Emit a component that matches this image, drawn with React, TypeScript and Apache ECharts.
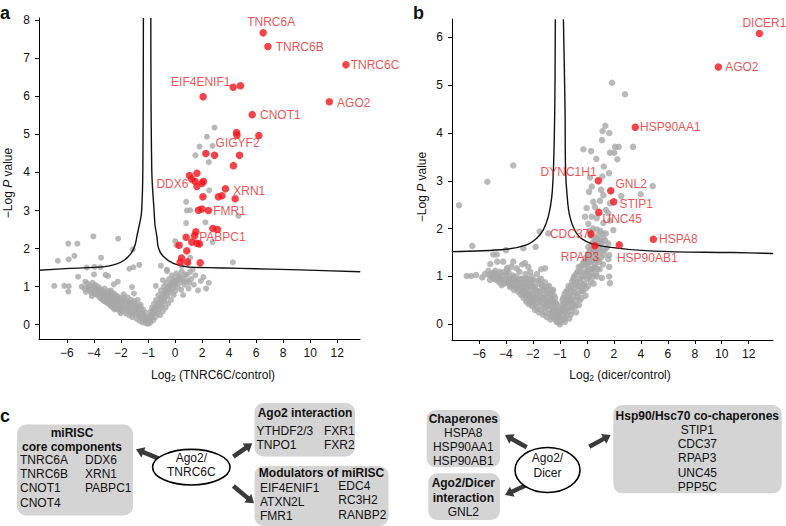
import React, { useEffect, useRef } from "react";
import * as echarts from "echarts";

const FONT = '"Liberation Sans", Arial, Helvetica, sans-serif';

// x tick labels (the axis is drawn with equal spacing between these labels)
const TICKS_X = [-6, -4, -2, -1, 0, 2, 4, 6, 8, 10, 12];
const TICKS_YA = [0, 1, 2, 3, 4, 5, 6, 7, 8];
const TICKS_YB = [0, 1, 2, 3, 4, 5, 6];

// Panel a: significant (red) proteins [log2 ratio, -log P, label]
const RED_A: [number, number, string][] = [
  [6.52, 7.67, "TNRC6A"], [6.87, 7.31, "TNRC6B"], [12.64, 6.83, "TNRC6C"], [4.3, 6.24, "EIF4ENIF1"],
  [4.84, 6.28, ""], [2.08, 5.99, ""], [11.41, 5.86, "AGO2"], [5.71, 5.52, "CNOT1"], [4.55, 5.05, ""],
  [4.58, 4.98, ""], [6.2, 4.97, ""], [2.28, 4.5, "GIGYF2"], [2.92, 4.45, ""], [4.77, 4.45, ""],
  [4.32, 4.18, ""], [1.62, 3.98, ""], [1.07, 3.92, ""], [1.24, 3.83, ""], [1.49, 3.76, "DDX6"],
  [2.1, 3.76, ""], [1.62, 3.63, ""], [1.99, 3.72, ""], [3.73, 3.57, "XRN1"], [3.47, 3.39, ""],
  [3.21, 3.36, ""], [2.06, 3.36, ""], [4.45, 3.31, ""], [1.99, 3.04, ""], [1.73, 3.01, ""],
  [2.47, 3.0, "FMR1"], [2.8, 2.53, ""], [3.14, 2.5, ""], [0.82, 2.3, ""], [1.54, 2.44, ""],
  [1.44, 2.34, "PABPC1"], [1.24, 2.17, ""], [1.62, 2.14, ""], [1.81, 2.12, ""], [0.3, 2.09, ""],
  [0.87, 1.94, ""], [0.48, 1.75, ""], [0.38, 1.64, ""], [0.92, 1.65, ""], [1.86, 1.63, ""],
];

// Panel a: other proteins (grey)
const GREY_A: [number, number][] = [
  [-6.93, 1.02], [-6.19, 1.02], [-5.86, 1.01], [-5.89, 0.87], [-6.67, 1.68], [-5.86, 1.72], [-5.44, 1.81],
  [-5.89, 2.13], [-5.22, 2.13], [-4.04, 2.32], [-2.21, 2.26], [-3.47, 1.76], [-1.56, 1.98], [-4.53, 1.5],
  [-3.96, 1.52], [-3.52, 1.51], [-1.69, 1.47], [-1.54, 1.51], [-1.32, 1.57], [-5.17, 1.26], [-3.15, 1.31],
  [-2.95, 1.28], [-3.99, 1.32], [-2.23, 1.13], [-2.53, 1.06], [-4.63, 1.13], [-1.59, 0.99], [-0.71, 1.02],
  [-0.45, 1.17],
  [-4.9, 1.0], [-4.7, 0.95], [-4.5, 1.08], [-4.4, 0.9], [-4.3, 1.02], [-4.2, 0.84], [-4.6, 0.86],
  [-4.1, 1.1], [-4.0, 0.95], [-3.95, 0.82], [-3.9, 1.05], [-3.8, 0.9], [-3.75, 0.78], [-3.7, 1.0],
  [-3.65, 0.86], [-3.6, 0.72], [-4.15, 0.75],
  [-3.55, 0.95], [-3.5, 0.8], [-3.45, 0.68], [-3.4, 0.88], [-3.3, 0.75], [-3.25, 0.62], [-3.2, 0.95],
  [-3.1, 0.82], [-3.05, 0.7], [-3.0, 0.58], [-2.95, 0.88], [-2.9, 0.76], [-2.85, 0.64], [-2.8, 0.52],
  [-2.75, 0.9], [-2.7, 0.78], [-2.65, 0.66], [-2.6, 0.55], [-2.55, 0.45], [-2.5, 0.82], [-2.45, 0.7],
  [-2.4, 0.6], [-2.35, 0.5], [-2.3, 0.4], [-2.25, 0.75], [-2.2, 0.65], [-2.15, 0.55], [-2.1, 0.45],
  [-2.05, 0.35], [-2.0, 0.7], [-2.0, 0.6],
  [-1.95, 0.5], [-1.92, 0.38], [-1.9, 0.8], [-1.85, 0.62], [-1.82, 0.3], [-1.8, 0.45], [-1.75, 0.72],
  [-1.72, 0.55], [-1.7, 0.25], [-1.68, 0.4], [-1.62, 0.65], [-1.6, 0.5], [-1.58, 0.2], [-1.55, 0.35],
  [-1.52, 0.82],
  [-1.48, 0.55], [-1.45, 0.3], [-1.42, 0.15], [-1.4, 0.45], [-1.38, 0.65], [-1.35, 0.22], [-1.32, 0.38],
  [-1.3, 0.1], [-1.27, 0.52], [-1.25, 0.3], [-1.22, 0.18], [-1.2, 0.06], [-1.18, 0.4], [-1.15, 0.25],
  [-1.12, 0.12], [-1.1, 0.32], [-1.08, 0.04], [-1.05, 0.18], [-1.02, 0.08], [-1.0, 0.02],
  [-0.97, 0.1], [-0.95, 0.22], [-0.92, 0.05], [-0.9, 0.35], [-0.88, 0.15], [-0.85, 0.45], [-0.83, 0.28],
  [-0.8, 0.12], [-0.78, 0.55], [-0.75, 0.38], [-0.72, 0.2], [-0.7, 0.65], [-0.68, 0.48], [-0.65, 0.3],
  [-0.62, 0.78], [-0.6, 0.58], [-0.58, 0.4], [-0.55, 0.25], [-0.52, 0.9],
  [-0.5, 0.7], [-0.48, 0.5], [-0.45, 0.35], [-0.42, 1.0], [-0.4, 0.82], [-0.38, 0.62], [-0.35, 0.45],
  [-0.32, 1.1], [-0.3, 0.92], [-0.28, 0.75], [-0.25, 0.55], [-0.22, 1.2], [-0.2, 1.02], [-0.18, 0.85],
  [-0.15, 0.65], [-0.12, 1.3], [-0.1, 1.12], [-0.08, 0.95], [-0.05, 0.78], [-0.02, 1.22], [0.0, 1.05],
  [0.0, 0.88],
  [0.1, 1.35], [0.15, 1.15], [0.2, 0.98], [0.3, 1.28], [0.35, 1.1], [0.45, 0.92], [0.5, 1.4], [0.55, 1.2],
  [0.7, 1.05], [0.75, 1.32], [0.9, 1.15], [1.0, 0.95], [1.1, 1.38], [1.2, 1.2], [1.4, 1.05], [1.5, 1.3],
  [1.7, 0.9], [1.9, 1.15], [2.1, 1.25], [2.3, 0.95], [1.3, 1.45], [0.6, 0.78], [2.5, 1.1],
  [2.92, 5.18], [2.36, 4.94], [1.81, 4.68], [2.77, 4.7], [1.51, 4.45], [2.5, 4.27], [2.53, 3.53],
  [0.82, 3.23], [0.87, 3.0], [1.12, 3.01], [4.69, 2.86], [2.25, 2.69], [0.82, 2.67], [2.77, 2.17],
  [0.01, 2.2], [0.1, 2.09], [4.28, 1.64], [1.12, 1.76], [0.99, 1.6], [0.5, 1.55], [-0.52, 1.55],
  [-0.3, 1.45], [-0.3, 1.41],
  [-4.45, 0.97], [-4.25, 0.93], [-4.05, 0.88], [-3.85, 0.97], [-3.85, 0.8], [-3.68, 0.93], [-3.58, 0.82],
  [-3.48, 0.9], [-3.42, 0.76], [-3.35, 0.66], [-3.28, 0.85], [-3.18, 0.72], [-3.12, 0.6], [-3.02, 0.78],
  [-2.98, 0.66], [-2.92, 0.55], [-2.88, 0.82], [-2.82, 0.7], [-2.78, 0.6], [-2.72, 0.48], [-2.68, 0.84],
  [-2.62, 0.72], [-2.58, 0.62], [-2.52, 0.5], [-2.48, 0.4], [-2.42, 0.76], [-2.38, 0.66], [-2.32, 0.55],
  [-2.28, 0.45], [-2.22, 0.7], [-2.18, 0.6], [-2.12, 0.5], [-2.08, 0.4], [-2.02, 0.3], [-1.97, 0.64],
  [-1.93, 0.55], [-1.88, 0.44], [-1.87, 0.7], [-1.78, 0.6], [-1.77, 0.35], [-1.73, 0.48], [-1.65, 0.3],
  [-1.64, 0.58], [-1.57, 0.45], [-1.53, 0.28], [-1.5, 0.62], [-1.46, 0.4], [-1.43, 0.5], [-1.37, 0.32],
  [-1.33, 0.5], [-1.28, 0.22], [-1.26, 0.42], [-1.2, 0.28], [-1.16, 0.15], [-1.13, 0.22], [-1.06, 0.1],
  [-0.98, 0.05], [-0.94, 0.15], [-0.9, 0.25], [-0.86, 0.22], [-0.82, 0.38], [-0.77, 0.3], [-0.73, 0.45],
  [-0.67, 0.4], [-0.64, 0.55], [-0.57, 0.5], [-0.54, 0.68], [-0.47, 0.6], [-0.44, 0.8], [-0.37, 0.72],
  [-0.34, 0.9], [-0.27, 0.85], [-0.24, 1.0], [-0.17, 0.95], [-0.13, 1.08], [-0.07, 1.05], [-0.04, 1.15],
  [0.05, 1.12], [0.25, 1.2], [0.4, 1.25], [0.65, 1.15], [0.85, 1.3], [1.05, 1.1],
];

// Panel a: significance threshold curve
const CURVE_A_LEFT: [number, number][] = [
  [-8.06, 1.43], [-5.81, 1.48], [-3.34, 1.52], [-2.36, 1.59], [-1.87, 1.7], [-1.62, 1.88], [-1.48, 2.09],
  [-1.4, 2.36], [-1.32, 2.62], [-1.24, 2.94], [-1.19, 4.06], [-1.17, 8.06],
];
const CURVE_A_RIGHT: [number, number][] = [
  [-0.895, 8.06], [-0.86, 4.06], [-0.77, 2.94], [-0.74, 2.62], [-0.67, 2.31], [-0.61, 2.01], [-0.43, 1.79],
  [-0.06, 1.61], [0.87, 1.52], [2.36, 1.5], [4.82, 1.48], [9.26, 1.44], [13.7, 1.39],
];

// Panel b
const RED_B: [number, number, string][] = [
  [12.79, 6.08, "DICER1"], [9.75, 5.38, "AGO2"], [3.59, 4.12, "HSP90AA1"], [0.85, 3.0, "DYNC1H1"],
  [1.77, 2.79, "GNL2"], [1.99, 2.56, "STIP1"], [0.88, 2.34, "UNC45"], [0.31, 1.89, "CDC37"],
  [0.6, 1.64, "RPAP3"], [2.4, 1.66, "HSP90AB1"], [4.93, 1.78, "HSPA8"],
];

const GREY_B: [number, number][] = [
  [1.86, 5.05], [2.83, 4.81], [1.37, 4.15], [1.17, 4.04], [1.66, 4.0], [1.12, 3.85], [-0.13, 3.66],
  [0.31, 3.62], [2.09, 3.71], [2.36, 3.71], [3.42, 3.71], [1.71, 3.59], [2.03, 3.59], [0.7, 3.46],
  [2.26, 3.45], [-3.46, 3.32], [1.25, 3.3], [1.64, 3.16], [1.15, 3.09], [-5.38, 2.98], [-7.48, 2.49],
  [-6.5, 1.64], [-1.75, 1.94], [-1.43, 1.9], [-1.9, 1.62], [-4.0, 1.55], [3.99, 2.72], [4.88, 2.89],
  [2.55, 2.68],
  [0.23, 3.07], [0.36, 2.88], [0.16, 2.77], [1.05, 2.81], [1.22, 2.7], [0.97, 2.58], [0.48, 2.56],
  [1.71, 2.53], [-0.01, 2.43], [0.6, 2.45], [1.42, 2.39], [1.59, 2.32], [0.36, 2.25], [0.73, 2.22],
  [-0.07, 2.25], [0.11, 2.1], [1.22, 2.12], [1.71, 2.17],
  [1.96, 1.97], [1.22, 1.8], [0.97, 1.73], [1.59, 1.69], [1.47, 1.6], [1.66, 1.45], [1.59, 1.36],
  [1.66, 1.2], [1.1, 0.97], [1.66, 1.0], [1.71, 0.86], [-0.07, 1.24], [-0.25, 1.1], [0.11, 1.1],
  [0.48, 1.17], [0.73, 1.0],
  [-4.94, 1.46], [-4.69, 1.46], [-2.71, 1.59], [-4.2, 1.31], [-4.64, 1.31], [-5.16, 1.26], [-3.46, 1.31],
  [-2.59, 1.28], [-6.91, 1.01], [-6.59, 1.01], [-6.22, 1.03], [-5.76, 0.98], [-5.56, 1.05], [-5.24, 1.03],
  [-4.94, 1.07], [-4.44, 1.1], [-3.95, 1.14], [-3.2, 1.17], [-2.34, 1.2], [-1.55, 1.17], [-5.18, 0.93],
  [-4.69, 0.93], [-4.32, 0.82], [-3.83, 0.86], [-3.33, 0.79], [-2.96, 0.72], [-2.46, 0.65], [-1.99, 0.58],
  [-1.74, 0.51], [-1.49, 0.4], [-1.25, 0.26], [-1.0, 0.05], [-0.81, 0.13],
  [-5.0, 0.98], [-4.8, 1.12], [-4.5, 0.88], [-4.3, 1.0], [-4.1, 0.92], [-4.0, 1.05], [-4.6, 1.02],
  [-5.3, 1.12],
  [-3.9, 0.95], [-3.8, 1.08], [-3.7, 0.78], [-3.6, 0.9], [-3.5, 1.02], [-3.4, 0.72], [-3.35, 0.88],
  [-3.25, 1.0], [-3.1, 0.68], [-3.05, 0.85], [-3.0, 1.1], [-3.6, 1.2],
  [-2.9, 0.62], [-2.85, 0.8], [-2.8, 0.95], [-2.7, 0.55], [-2.65, 0.72], [-2.6, 0.88], [-2.55, 1.05],
  [-2.5, 0.48], [-2.45, 0.62], [-2.4, 0.8], [-2.35, 0.95], [-2.3, 0.42], [-2.25, 0.55], [-2.2, 0.7],
  [-2.15, 0.86], [-2.1, 1.0], [-2.05, 0.38], [-2.0, 0.5], [-2.0, 0.65], [-2.0, 0.8], [-2.8, 1.25],
  [-2.2, 1.1],
  [-1.95, 0.92], [-1.92, 0.3], [-1.9, 0.72], [-1.88, 0.45], [-1.85, 1.05], [-1.82, 0.58], [-1.8, 0.85],
  [-1.78, 0.25], [-1.75, 0.68], [-1.72, 0.4], [-1.7, 0.95], [-1.68, 0.52], [-1.65, 0.78], [-1.62, 0.2],
  [-1.6, 0.62], [-1.58, 0.35], [-1.55, 0.88], [-1.52, 0.48], [-1.5, 0.7], [-1.7, 1.15],
  [-1.48, 0.15], [-1.45, 0.58], [-1.42, 0.32], [-1.4, 0.8], [-1.38, 0.45], [-1.35, 0.1], [-1.32, 0.62],
  [-1.3, 0.25], [-1.28, 0.5], [-1.25, 0.72], [-1.22, 0.38], [-1.2, 0.12], [-1.18, 0.55], [-1.15, 0.28],
  [-1.12, 0.42], [-1.1, 0.08], [-1.08, 0.2], [-1.05, 0.35], [-1.02, 0.15], [-1.0, 0.0],
  [-0.98, 0.25], [-0.95, 0.08], [-0.92, 0.4], [-0.9, 0.18], [-0.88, 0.55], [-0.85, 0.3], [-0.82, 0.05],
  [-0.8, 0.45], [-0.78, 0.68], [-0.75, 0.2], [-0.72, 0.58], [-0.7, 0.35], [-0.68, 0.8], [-0.65, 0.12],
  [-0.62, 0.48], [-0.6, 0.7], [-0.58, 0.28], [-0.55, 0.9], [-0.52, 0.6], [-0.5, 0.4],
  [-0.48, 1.0], [-0.45, 0.75], [-0.42, 0.5], [-0.4, 0.25], [-0.38, 0.88], [-0.35, 1.1], [-0.32, 0.65],
  [-0.3, 0.4], [-0.28, 0.95], [-0.25, 0.78], [-0.22, 1.2], [-0.2, 0.55], [-0.18, 1.0], [-0.15, 0.7],
  [-0.12, 1.3], [-0.1, 0.85], [-0.08, 1.1], [-0.05, 0.6], [-0.02, 1.4], [0.0, 0.95],
  [0.05, 1.2], [0.1, 0.8], [0.15, 1.5], [0.2, 1.0], [0.25, 1.3], [0.3, 0.9], [0.35, 1.6], [0.4, 1.15],
  [0.45, 1.4], [0.5, 0.85], [0.55, 1.75], [0.6, 1.25], [0.65, 1.5], [0.7, 1.05], [0.8, 1.85],
  [0.85, 1.35], [0.9, 1.6], [0.95, 1.15], [1.0, 1.95], [1.05, 1.4], [1.1, 1.7], [1.2, 1.25], [1.3, 1.55],
  [1.4, 1.9], [0.3, 1.85], [0.1, 1.62], [0.45, 2.0], [0.75, 1.98], [0.2, 1.95],
  [-5.1, 1.05], [-4.85, 0.95], [-4.7, 1.05], [-4.55, 0.97], [-4.4, 0.95], [-4.2, 1.08], [-4.15, 0.85],
  [-3.95, 0.88], [-3.9, 1.18], [-3.75, 0.95], [-3.65, 0.82], [-3.55, 0.96], [-3.45, 0.8], [-3.3, 0.95],
  [-3.2, 0.75], [-3.15, 0.9], [-3.0, 0.78], [-2.95, 0.95], [-2.9, 0.7], [-2.75, 0.85], [-2.75, 0.65],
  [-2.6, 0.6], [-2.6, 0.78], [-2.5, 0.95], [-2.45, 0.72], [-2.4, 0.52], [-2.3, 0.85], [-2.3, 0.62],
  [-2.2, 0.45], [-2.15, 0.6], [-2.1, 0.78], [-2.05, 0.92], [-2.05, 0.5], [-1.97, 0.4], [-1.95, 0.6],
  [-1.93, 0.78], [-1.87, 0.35], [-1.85, 0.52], [-1.83, 0.7], [-1.77, 0.92], [-1.77, 0.48], [-1.73, 0.6],
  [-1.7, 0.3], [-1.67, 0.82], [-1.65, 0.45], [-1.6, 0.72], [-1.57, 0.55], [-1.55, 0.25], [-1.5, 0.38],
  [-1.47, 0.78], [-1.45, 0.45], [-1.42, 0.65], [-1.38, 0.22], [-1.35, 0.52], [-1.33, 0.38], [-1.3, 0.7],
  [-1.27, 0.15], [-1.25, 0.45], [-1.22, 0.6], [-1.2, 0.3], [-1.17, 0.2], [-1.15, 0.45], [-1.12, 0.05],
  [-1.1, 0.3], [-1.07, 0.12], [-1.04, 0.25], [-0.97, 0.12], [-0.94, 0.3], [-0.9, 0.5], [-0.87, 0.1],
  [-0.85, 0.4], [-0.83, 0.62], [-0.8, 0.25], [-0.77, 0.5], [-0.74, 0.32], [-0.7, 0.72], [-0.67, 0.45],
  [-0.64, 0.6], [-0.6, 0.2], [-0.58, 0.8], [-0.56, 0.5], [-0.54, 0.35], [-0.5, 0.95], [-0.47, 0.68],
  [-0.44, 0.85], [-0.42, 0.38], [-0.4, 1.05], [-0.36, 0.58], [-0.33, 0.8], [-0.3, 1.2], [-0.27, 0.5],
  [-0.24, 0.9], [-0.2, 0.7], [-0.17, 1.25], [-0.14, 0.82], [-0.1, 1.0], [-0.06, 1.3], [-0.04, 0.75],
  [0.02, 1.1], [0.08, 1.45], [0.12, 1.0], [0.18, 1.3], [0.22, 1.15], [0.28, 1.55], [0.33, 1.05],
  [0.38, 1.35], [0.42, 1.7], [0.48, 1.0], [0.52, 1.5], [0.58, 1.2], [0.62, 1.65], [0.68, 1.35],
  [0.72, 1.8], [0.78, 1.15], [0.88, 1.5], [0.92, 1.3], [0.98, 1.75], [1.08, 1.55], [1.15, 1.9],
  [1.25, 1.45], [1.35, 1.75],
];

const CURVE_B_LEFT: [number, number][] = [
  [-8.02, 1.52], [-4.0, 1.57], [-2.47, 1.66], [-1.86, 1.8], [-1.62, 1.97], [-1.43, 2.25], [-1.3, 2.67],
  [-1.24, 3.23], [-1.19, 4.5], [-1.17, 6.38],
];
const CURVE_B_RIGHT: [number, number][] = [
  [-0.87, 6.38], [-0.81, 4.5], [-0.79, 3.23], [-0.73, 2.67], [-0.63, 2.25], [-0.38, 1.9], [-0.01, 1.73],
  [1.47, 1.62], [4.93, 1.53], [10.86, 1.5], [13.8, 1.48],
];

// Panel c texts
const CORE_LEFT = ["TNRC6A", "TNRC6B", "CNOT1", "CNOT4"];
const CORE_RIGHT = ["DDX6", "XRN1", "PABPC1"];
const AGO2_INT_LEFT = ["YTHDF2/3", "TNPO1"];
const AGO2_INT_RIGHT = ["FXR1", "FXR2"];
const MOD_LEFT = ["EIF4ENIF1", "ATXN2L", "FMR1"];
const MOD_RIGHT = ["EDC4", "RC3H2", "RANBP2"];
const CHAPERONES = ["HSPA8", "HSP90AA1", "HSP90AB1"];
const DICER_INT = ["GNL2"];
const COCHAP = ["STIP1", "CDC37", "RPAP3", "UNC45", "PPP5C"];

// axis mapping: labels are equally spaced on the axis
function toU(x: number): number {
  if (x <= -2) return (x + 6) / 2;
  if (x <= 0) return x + 4;
  return 4 + x / 2;
}
const TICK_U = TICKS_X.map(toU);
function fmtNum(v: number): string {
  return v < 0 ? "\u2212" + Math.abs(v) : String(v);
}
function labelForU(u: number): string {
  let best = 0;
  for (let i = 0; i < TICK_U.length; i++) if (Math.abs(TICK_U[i] - u) < Math.abs(TICK_U[best] - u)) best = i;
  return fmtNum(TICKS_X[best]);
}

const RED = "#f2141c";
const RED_TEXT = "#ea1f26";
const GREY = "#a8a8a8";

const LABEL_A: Record<string, any> = {
  TNRC6A: { position: "top", distance: 1, offset: [8, 0] },
  TNRC6B: { position: "right", distance: 4 },
  TNRC6C: { position: "right", distance: 1 },
  EIF4ENIF1: { position: "left", distance: 0, offset: [1, -5] },
  AGO2: { position: "right", distance: 4, offset: [0, 1] },
  CNOT1: { position: "right", distance: 4 },
  GIGYF2: { position: "right", distance: 6, offset: [0, -10] },
  DDX6: { position: "left", distance: 3, offset: [0, 2] },
  XRN1: { position: "right", distance: 4, offset: [0, 2] },
  FMR1: { position: "right", distance: 1 },
  PABPC1: { position: "right", distance: 1, offset: [0, 1] },
};
const LABEL_B: Record<string, any> = {
  DICER1: { position: "top", distance: 1, offset: [5, 0] },
  AGO2: { position: "right", distance: 3 },
  HSP90AA1: { position: "right", distance: 1 },
  DYNC1H1: { position: "left", distance: -2, offset: [0, -9] },
  GNL2: { position: "right", distance: 1, offset: [0, -7] },
  STIP1: { position: "right", distance: 2, offset: [0, 2.5] },
  UNC45: { position: "right", distance: 0, offset: [0, 6.5] },
  CDC37: { position: "left", distance: -2 },
  RPAP3: { position: "bottom", distance: 1, offset: [-15, 0] },
  HSP90AB1: { position: "bottom", distance: 3, offset: [28, 0] },
  HSPA8: { position: "right", distance: 2 },
};

function redData(list: [number, number, string][], cfg: Record<string, any>) {
  return list.map(([x, y, name]) => ({
    value: [toU(x), y],
    name,
    label: name
      ? { show: true, formatter: name, color: RED_TEXT, fontSize: 12, fontFamily: FONT, ...cfg[name] }
      : { show: false },
  }));
}

function xAxis(gridIndex: number, min: number, max: number) {
  return {
    type: "value",
    gridIndex,
    min,
    max,
    axisLine: { show: true, onZero: false, lineStyle: { color: "#000", width: 1 } },
    axisTick: { show: true, length: 4, customValues: TICK_U, lineStyle: { color: "#000", width: 1 } },
    axisLabel: {
      customValues: TICK_U,
      formatter: (v: number) => labelForU(v),
      color: "#111",
      fontSize: 12,
      fontFamily: FONT,
      margin: 8,
    },
    splitLine: { show: false },
  };
}
function yAxis(gridIndex: number, min: number, max: number, ticks: number[]) {
  return {
    type: "value",
    gridIndex,
    min,
    max,
    axisLine: { show: true, onZero: false, lineStyle: { color: "#000", width: 1 } },
    axisTick: { show: true, length: 4, customValues: ticks, lineStyle: { color: "#000", width: 1 } },
    axisLabel: { customValues: ticks, formatter: (v: number) => fmtNum(v), color: "#111", fontSize: 12, fontFamily: FONT, margin: 9 },
    splitLine: { show: false },
  };
}
function curve(points: [number, number][], idx: number) {
  return {
    type: "line",
    xAxisIndex: idx,
    yAxisIndex: idx,
    data: points.map(([x, y]) => [toU(x), y]),
    showSymbol: false,
    smooth: 0.35,
    lineStyle: { color: "#111", width: 1.4 },
    silent: true,
    z: 3,
  };
}

// ---------- graphic helpers for panel c ----------
function txt(x: number, y: number, text: string, o: any = {}) {
  return {
    type: "text",
    x,
    y,
    silent: true,
    style: {
      text,
      fill: "#111",
      fontSize: o.size || 12,
      fontWeight: o.bold ? "bold" : "normal",
      fontFamily: FONT,
      align: o.align || "left",
      textAlign: o.align || "left",
      verticalAlign: "middle",
      textVerticalAlign: "middle",
    },
  };
}
function box(x: number, y: number, w: number, h: number) {
  return { type: "rect", silent: true, shape: { x, y, width: w, height: h, r: 9 }, style: { fill: "#d4d4d4" } };
}
function arrow(x1: number, y1: number, x2: number, y2: number) {
  const dx = x2 - x1, dy = y2 - y1;
  const len = Math.sqrt(dx * dx + dy * dy);
  const ux = dx / len, uy = dy / len;
  const hl = 8, hw = 5.5;
  const bx = x2 - ux * hl, by = y2 - uy * hl;
  const nx = -uy, ny = ux;
  return [
    { type: "line", silent: true, shape: { x1, y1, x2: bx + ux, y2: by + uy }, style: { stroke: "#3a3a3a", lineWidth: 4.5 } },
    {
      type: "polygon",
      silent: true,
      shape: { points: [[x2, y2], [bx + nx * hw, by + ny * hw], [bx - nx * hw, by - ny * hw]] },
      style: { fill: "#3a3a3a" },
    },
  ];
}
function ellipse(cx: number, cy: number, rx: number, ry: number) {
  return { type: "ellipse", silent: true, shape: { cx, cy, rx, ry }, style: { fill: "#fff", stroke: "#000", lineWidth: 1.6 } };
}
function column(x: number, y0: number, step: number, items: string[], align = "left") {
  return items.map((t, i) => txt(x, y0 + i * step, t, { align }));
}

function buildGraphic() {
  const g: any[] = [];
  // panel letters
  g.push(txt(0, 13, "a", { bold: true, size: 18 }));
  g.push(txt(413, 13, "b", { bold: true, size: 18 }));
  g.push(txt(0, 416, "c", { bold: true, size: 18 }));

  // axis titles
  const richBase = {
    n: { fontSize: 12, fontFamily: FONT, fill: "#111" },
    s: { fontSize: 8.5, fontFamily: FONT, fill: "#111", padding: [6, 0, 0, 0] },
    i: { fontSize: 12, fontFamily: FONT, fill: "#111", fontStyle: "italic" },
  };
  const xTitle = (x: number, inner: string) => ({
    type: "text",
    x,
    y: 375,
    silent: true,
    style: { text: `{n|Log}{s|2}{n| (${inner})}`, rich: richBase, align: "center", verticalAlign: "middle" },
  });
  g.push(xTitle(213, "TNRC6C/control"));
  g.push(xTitle(620, "dicer/control"));
  const yTitle = (x: number, y: number) => ({
    type: "text",
    x,
    y,
    rotation: Math.PI / 2,
    silent: true,
    style: { text: "{n|\u2212Log }{i|P}{n| value}", rich: richBase, align: "center", verticalAlign: "middle" },
  });
  g.push(yTitle(8, 183));
  g.push(yTitle(422, 187));

  // ---- panel c left ----
  g.push(box(17, 424.5, 116, 91));
  g.push(txt(72, 432.7, "miRISC", { bold: true, align: "center" }));
  g.push(txt(72, 446.7, "core components", { bold: true, align: "center" }));
  g.push(...column(20, 460, 14.2, CORE_LEFT));
  g.push(...column(85, 460, 14.2, CORE_RIGHT));

  g.push(box(254.5, 403, 100.5, 53.5));
  g.push(txt(305, 413.3, "Ago2 interaction", { bold: true, align: "center" }));
  g.push(...column(256.5, 431, 14, AGO2_INT_LEFT));
  g.push(...column(324, 431, 14, AGO2_INT_RIGHT));

  g.push(box(254.5, 466, 134, 60));
  g.push(txt(321.5, 472.5, "Modulators of miRISC", { bold: true, align: "center" }));
  g.push(...column(260, 487.5, 14.3, MOD_LEFT));
  g.push(...column(338.3, 486, 14.3, MOD_RIGHT));

  g.push(...arrow(158.3, 458.3, 136, 449.3));
  g.push(...arrow(233.3, 456.7, 252.3, 443.3));
  g.push(...arrow(233.3, 486, 254, 503.3));
  g.push(ellipse(191.3, 467.2, 38.7, 17.8));
  g.push(txt(191.3, 458.3, "Ago2/", { align: "center" }));
  g.push(txt(191.3, 472, "TNRC6C", { align: "center" }));

  // ---- panel c right ----
  g.push(box(426.7, 410, 73.3, 57.3));
  g.push(txt(463.3, 419, "Chaperones", { bold: true, align: "center" }));
  g.push(...column(463.3, 432.7, 14.2, CHAPERONES, "center"));

  g.push(box(428.3, 473.3, 71.7, 46.7));
  g.push(txt(463.3, 483.3, "Ago2/Dicer", { bold: true, align: "center" }));
  g.push(txt(463.3, 497.7, "interaction", { bold: true, align: "center" }));
  g.push(...column(463.3, 512.3, 14, DICER_INT, "center"));

  g.push(box(613.3, 405, 168.4, 88.3));
  g.push(txt(697.3, 415.7, "Hsp90/Hsc70 co-chaperones", { bold: true, align: "center" }));
  g.push(...column(697.3, 430, 14.2, COCHAP, "center"));

  g.push(...arrow(526.7, 447.3, 505, 435));
  g.push(...arrow(526.7, 485, 505, 495));
  g.push(...arrow(589.3, 446.7, 610.7, 435));
  g.push(ellipse(547.5, 470, 32.5, 22.5));
  g.push(txt(547.5, 458.3, "Ago2/", { align: "center" }));
  g.push(txt(547.5, 472.7, "Dicer", { align: "center" }));
  return g;
}

export default function App() {
  const ref = useRef<HTMLDivElement>(null);
  useEffect(() => {
    if (!ref.current) return;
    const chart = echarts.init(ref.current, null, { renderer: "svg" });
    chart.setOption({
      animation: false,
      backgroundColor: "#fff",
      textStyle: { fontFamily: FONT },
      grid: [
        { left: 39, top: 18, width: 321, height: 321 },
        { left: 452, top: 19, width: 321, height: 321 },
      ],
      xAxis: [xAxis(0, -1.03, 10.84), xAxis(1, -1.0, 10.9)],
      yAxis: [yAxis(0, -0.376, 8.06, TICKS_YA), yAxis(1, -0.328, 6.383, TICKS_YB)],
      series: [
        {
          type: "scatter",
          xAxisIndex: 0,
          yAxisIndex: 0,
          data: GREY_A.map(([x, y]) => [toU(x), y]),
          symbolSize: 6,
          itemStyle: { color: GREY },
          silent: true,
          z: 2,
        },
        curve(CURVE_A_LEFT, 0),
        curve(CURVE_A_RIGHT, 0),
        {
          type: "scatter",
          xAxisIndex: 0,
          yAxisIndex: 0,
          data: redData(RED_A, LABEL_A),
          symbolSize: 7.5,
          itemStyle: { color: RED },
          silent: true,
          z: 4,
        },
        {
          type: "scatter",
          xAxisIndex: 1,
          yAxisIndex: 1,
          data: GREY_B.map(([x, y]) => [toU(x), y]),
          symbolSize: 6.5,
          itemStyle: { color: GREY },
          silent: true,
          z: 2,
        },
        curve(CURVE_B_LEFT, 1),
        curve(CURVE_B_RIGHT, 1),
        {
          type: "scatter",
          xAxisIndex: 1,
          yAxisIndex: 1,
          data: redData(RED_B, LABEL_B),
          symbolSize: 7.5,
          itemStyle: { color: RED },
          silent: true,
          z: 4,
        },
      ],
      graphic: buildGraphic(),
    });
    return () => chart.dispose();
  }, []);
  return <div ref={ref} style={{ position: "absolute", left: 0, top: 0, width: 786, height: 526 }} />;
}
